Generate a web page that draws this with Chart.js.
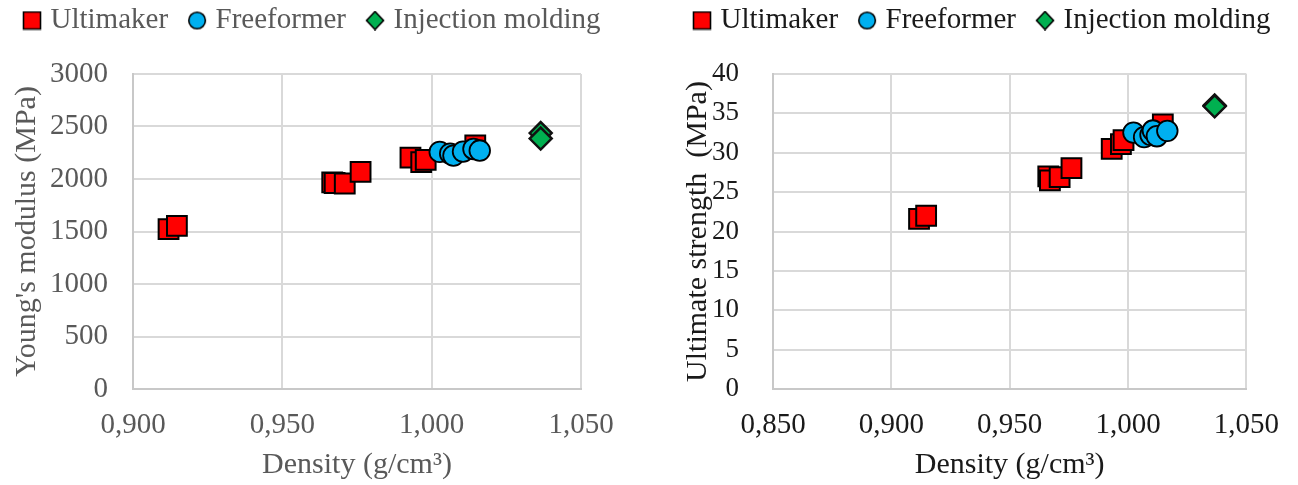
<!DOCTYPE html>
<html>
<head>
<meta charset="utf-8">
<script src="https://cdn.jsdelivr.net/npm/chart.js@4/dist/chart.umd.min.js"></script>
<style>
  body { margin: 0; background: #fff; }
  canvas { position: absolute; top: 0; }
  #left { left: 0; }
  #right { left: 640px; }
</style>
</head>
<body>
<canvas id="left" width="640" height="485"></canvas>
<canvas id="right" width="658" height="485"></canvas>
<script>
// data
const seriesNames = ["Ultimaker", "Freeformer", "Injection molding"]

const modUltiX = [0.9119, 0.9147, 0.9667, 0.9675, 0.9709, 0.9762, 0.9929, 0.9965, 0.9980, 1.0146]
const modUltiY = [1523, 1553, 1967, 1962, 1957, 2067, 2204, 2160, 2182, 2321]
const modFreeX = [1.0027, 1.0062, 1.0073, 1.0105, 1.0140, 1.0161]
const modFreeY = [2258, 2242, 2223, 2261, 2286, 2271]
const modInjX = [1.0365, 1.0365]
const modInjY = [2438, 2385]

const strUltiX = [0.9117, 0.9147, 0.9663, 0.9670, 0.9711, 0.9761, 0.9931, 0.9970, 0.9981, 1.0147]
const strUltiY = [21.6, 22.0, 27.0, 26.5, 26.9, 28.05, 30.5, 31.1, 31.6, 33.6]
const strFreeX = [1.0023, 1.0068, 1.0095, 1.0105, 1.0122, 1.0166]
const strFreeY = [32.56, 31.98, 32.27, 32.82, 32.10, 32.78]
const strInjX = [1.0366, 1.0366]
const strInjY = [36.0, 35.9]

const modXTicks = [0.900, 0.950, 1.000, 1.050]
const modYTicks = [0, 500, 1000, 1500, 2000, 2500, 3000]
const strXTicks = [0.850, 0.900, 0.950, 1.000, 1.050]
const strYTicks = [0, 5, 10, 15, 20, 25, 30, 35, 40]

Chart.defaults.font.family = "'Liberation Serif', 'Times New Roman', serif"

const zip = (xs, ys) => xs.map((x, i) => ({ x: x, y: ys[i] }))
const commaFmt = v => Number(v).toFixed(3).replace('.', ',')

function legendIcon(shape, fill) {
    const c = document.createElement('canvas')
    c.width = 20
    c.height = 20
    const g = c.getContext('2d')
    g.fillStyle = fill
    g.strokeStyle = '#000'
    g.lineWidth = 1.6
    g.beginPath()
    if (shape === 'rect') g.rect(1.5, 1.5, 17, 17)
    else if (shape === 'circle') g.arc(10, 10, 8.3, 0, Math.PI * 2)
    else { g.moveTo(10, 1); g.lineTo(18.5, 10); g.lineTo(10, 19); g.lineTo(1.5, 10); g.closePath() }
    g.fill()
    g.stroke()
    return c
}
const icons = [legendIcon('rect', '#ff0000'), legendIcon('circle', '#00b0f0'), legendIcon('diamond', '#00b050')]

// keep the legend on one row, at a fixed height above the plot
const legendBox = {
    id: 'legendBox',
    beforeUpdate(chart) {
        const lg = chart.legend
        if (!lg || lg._fixed) return
        const fit = lg.fit
        lg.fit = function () {
            this.maxWidth = 2000
            fit.call(this)
            this.height = 74
        }
        lg._fixed = true
    },
    afterLayout(chart) {
        chart.legend.top = -19
        chart.legend.right = 2000
    }
}

function makeChart(id, cfg) {
    const txt = cfg.textColor
    return new Chart(document.getElementById(id), {
        type: 'scatter',
        data: {
            datasets: [
                { label: seriesNames[0], data: cfg.ulti, order: 3, pointStyle: 'rect', pointRadius: 14, pointHoverRadius: 14,
                  backgroundColor: '#ff0000', borderColor: '#000', borderWidth: 2 },
                { label: seriesNames[1], data: cfg.free, order: 2, pointStyle: 'circle', pointRadius: 10.3, pointHoverRadius: 10.3,
                  backgroundColor: '#00b0f0', borderColor: '#000', borderWidth: 1.8 },
                { label: seriesNames[2], data: cfg.inj, order: 1, pointStyle: 'rectRot', pointRadius: 11, pointHoverRadius: 11,
                  backgroundColor: '#00b050', borderColor: '#111', borderWidth: 2.5 }
            ]
        },
        options: {
            responsive: false,
            animation: false,
            layout: { padding: { left: cfg.padLeft, right: cfg.padRight, top: 0, bottom: 0 } },
            plugins: {
                tooltip: { enabled: false },
                legend: {
                    align: 'start',
                    labels: {
                        usePointStyle: true,
                        boxWidth: 8,
                        boxHeight: 18,
                        padding: 25,
                        color: txt,
                        font: { size: 29 },
                        sort: (a, b) => a.datasetIndex - b.datasetIndex,
                        generateLabels(chart) {
                            const items = Chart.defaults.plugins.legend.labels.generateLabels(chart)
                            items.forEach(it => { it.pointStyle = icons[it.datasetIndex] })
                            return items
                        }
                    }
                }
            },
            scales: {
                x: {
                    type: 'linear',
                    min: cfg.xTicks[0],
                    max: cfg.xTicks[cfg.xTicks.length - 1],
                    afterBuildTicks: s => { s.ticks = cfg.xTicks.map(v => ({ value: v })) },
                    afterFit: s => { s.height = 96 },
                    grid: { color: '#d9d9d9', lineWidth: 2, drawTicks: false },
                    border: { color: '#c8c8c8', width: 2 },
                    ticks: { callback: commaFmt, color: txt, font: { size: 29 }, padding: 19, maxRotation: 0, autoSkip: false },
                    title: { display: true, text: 'Density (g/cm³)', color: txt, font: { size: 30 }, padding: { top: 0, bottom: 2 } }
                },
                y: {
                    min: cfg.yTicks[0],
                    max: cfg.yTicks[cfg.yTicks.length - 1],
                    afterBuildTicks: s => { s.ticks = cfg.yTicks.map(v => ({ value: v })) },
                    afterFit: s => { s.width = cfg.yWidth },
                    grid: { color: '#d9d9d9', lineWidth: 2, drawTicks: false },
                    border: { color: '#c8c8c8', width: 2 },
                    ticks: { callback: v => String(v), color: txt, font: { size: cfg.yTickSize }, padding: cfg.yTickPad },
                    title: { display: true, text: cfg.yTitle, color: txt, font: { size: 30 }, padding: { top: cfg.yTitlePad, bottom: 0 } }
                }
            }
        },
        plugins: [legendBox]
    })
}

makeChart('left', {
    ulti: zip(modUltiX, modUltiY),
    free: zip(modFreeX, modFreeY),
    inj: zip(modInjX, modInjY),
    xTicks: modXTicks, yTicks: modYTicks,
    yTitle: "Young's modulus (MPa)",
    textColor: '#595959',
    padLeft: 3, padRight: 59, yWidth: 130,
    yTickSize: 29, yTickPad: 25, yTitlePad: 6
})

makeChart('right', {
    ulti: zip(strUltiX, strUltiY),
    free: zip(strFreeX, strFreeY),
    inj: zip(strInjX, strInjY),
    xTicks: strXTicks, yTicks: strYTicks,
    yTitle: 'Ultimate strength  (MPa)',
    textColor: '#1a1a1a',
    padLeft: 33, padRight: 48, yWidth: 100,
    yTickSize: 27, yTickPad: 34, yTitlePad: 7
})
</script>
</body>
</html>
